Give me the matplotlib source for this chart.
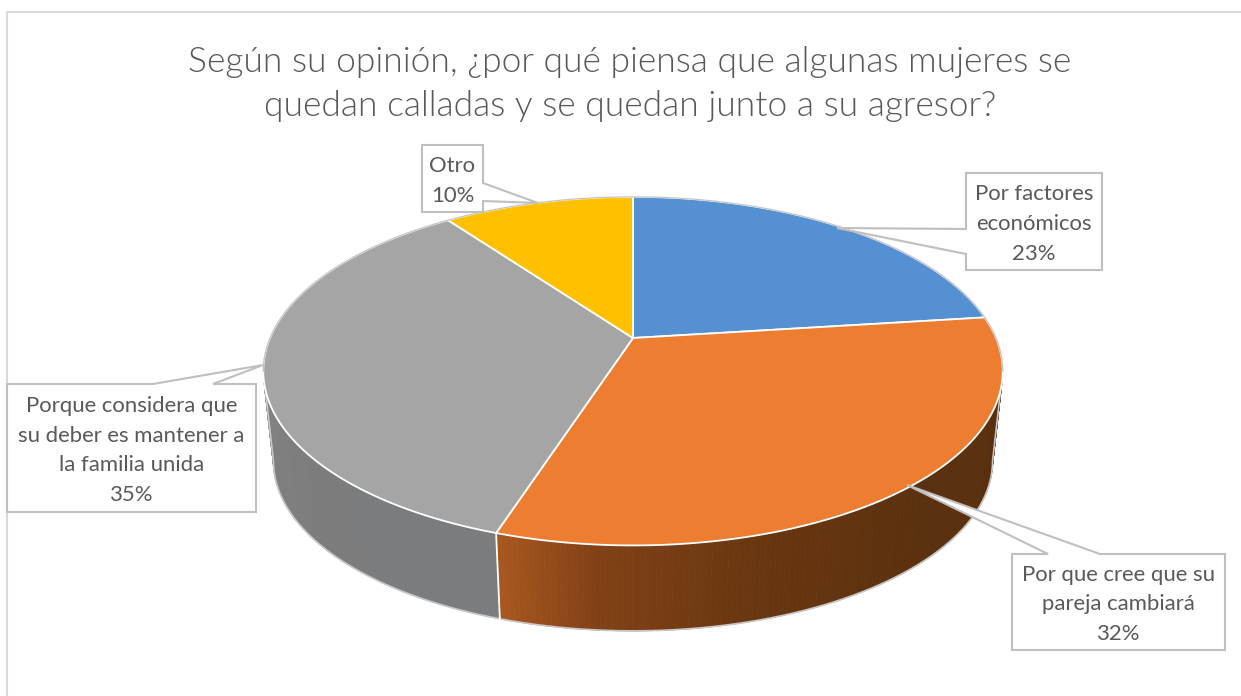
import numpy as np
import matplotlib
matplotlib.use("Agg")
import matplotlib.pyplot as plt
from matplotlib.collections import PolyCollection

plt.rcParams['font.family'] = ['Lato', 'DejaVu Sans']

title = "Según su opinión, ¿por qué piensa que algunas mujeres se\nquedan calladas y se quedan junto a su agresor?"
labels = ["Por factores\neconómicos", "Por que cree que su\npareja cambiará",
          "Porque considera que\nsu deber es mantener a\nla familia unida", "Otro"]
values = [23, 32, 35, 10]
colors = ["#5590D2", "#ED7D31", "#A5A5A5", "#FFC000"]

# side shading, angle (deg clockwise from 12 o'clock) -> rgb
side_angles = {1: [60, 135, 165, 185, 198], 2: [198, 230, 280, 330]}
side_rgb = {1: [(88, 46, 14), (90, 48, 14), (105, 55, 16), (130, 65, 22), (170, 88, 32)],
            2: [(122, 124, 126), (124, 124, 124), (132, 132, 132), (142, 142, 142)]}

# one box per label: left, top, right, bottom, then the callout wedge
boxes = [
    (966, 173, 1102, 270, [(966, 229), (837, 228), (966, 254)]),
    (1012, 554, 1225, 650, [(1048, 554), (907, 485), (1100, 554)]),
    (7, 384, 256, 512, [(213, 384), (263, 365), (153, 384)]),
    (422, 145, 483, 212, [(483, 183), (538, 203), (483, 201)]),
]
GRID = "#BFBFBF"
TEXT = "#595959"
K = 0.19


def project(theta, cx=633, cy=338, a=363, b=168):
    # circle seen in perspective, far side smaller
    x, y = np.sin(theta), np.cos(theta)
    w = 1 + K * y
    return cx + a * x / w, cy - b * y / w


def rim_top(theta):
    return project(theta)


def rim_bottom(theta):
    return project(theta, cy=429, a=353, b=163.5)


def callout(ax, left, top, right, bottom, wedge):
    # walk around the box and put the wedge in on the side it leaves from
    (x0, y0), tip, (x1, y1) = wedge
    if y0 == top and y1 == top:
        pts = [(left, top), (min(x0, x1), top), tip, (max(x0, x1), top), (right, top), (right, bottom), (left, bottom)]
    elif x0 == left:
        pts = [(left, top), (right, top), (right, bottom), (left, bottom), (left, y1), tip, (left, y0)]
    else:
        pts = [(left, top), (right, top), (right, y0), tip, (right, y1), (right, bottom), (left, bottom)]
    ax.fill(*zip(*pts), facecolor="white", edgecolor=GRID, lw=1.5, zorder=5, joinstyle="miter")


def main():
    fig = plt.figure(figsize=(12.41, 6.96), dpi=100)
    ax = fig.add_axes([0, 0, 1, 1])
    ax.set_xlim(0, 1241)
    ax.set_ylim(696, 0)
    ax.axis("off")

    # frame of the chart, only left and top are in the picture
    ax.plot([7, 7, 1241], [696, 12, 12], color="#D9D9D9", lw=1.5, zorder=1)

    edges = np.cumsum([0] + values) / sum(values) * 2 * np.pi

    # side wall first, the top covers what is not visible
    for i in side_angles:
        t = np.linspace(edges[i], edges[i + 1], 160)
        xt, yt = rim_top(t)
        xb, yb = rim_bottom(t)
        quads = [[(xt[j], yt[j]), (xt[j + 1], yt[j + 1]), (xb[j + 1], yb[j + 1]), (xb[j], yb[j])]
                 for j in range(len(t) - 1)]
        mid = np.degrees((t[:-1] + t[1:]) / 2)
        rgb = np.array(side_rgb[i], dtype=float)
        shades = np.column_stack([np.interp(mid, side_angles[i], rgb[:, c]) for c in range(3)]) / 255
        ax.add_collection(PolyCollection(quads, facecolors=shades, edgecolors=shades, lw=0.6, zorder=2))

    # lower outline of the wall, from one widest point of the rim to the other
    widest = np.arccos(-K)
    t = np.linspace(widest, 2 * np.pi - widest, 300)
    xb, yb = rim_bottom(t)
    xt, yt = rim_top(t)
    ax.plot(np.r_[xt[0], xb, xt[-1]], np.r_[yt[0], yb, yt[-1]], color="#C8C8C8", lw=1.2, zorder=3)
    xs, ys = [rim_top(edges[2])[0], rim_bottom(edges[2])[0]], [rim_top(edges[2])[1], rim_bottom(edges[2])[1]]
    ax.plot(xs, ys, color="white", lw=1.3, zorder=3)

    # top face
    cx, cy = 633, 338
    for i, c in enumerate(colors):
        t = np.linspace(edges[i], edges[i + 1], 200)
        x, y = rim_top(t)
        ax.fill(np.r_[cx, x], np.r_[cy, y], facecolor=c, edgecolor="white", lw=1.3, zorder=4, joinstyle="round")

    # thin grey line on the far rim
    t = np.linspace(2 * np.pi - widest, 2 * np.pi + widest, 400)
    ax.plot(*rim_top(t), color="#C4C4C4", lw=0.9, zorder=4)

    for (left, top, right, bottom, wedge), lab, v in zip(boxes, labels, values):
        callout(ax, left, top, right, bottom, wedge)
        ax.text((left + right) / 2, (top + bottom) / 2 + 2.5, f"{lab}\n{v}%", ha="center", va="center",
                fontsize=15.9, color=TEXT, linespacing=1.6, zorder=6)

    ax.text(630, 84, title, ha="center", va="center", fontsize=25.5, color=TEXT, linespacing=1.5, fontweight=300)

    fig.savefig("out.png", dpi=100)


if __name__ == "__main__":
    main()
